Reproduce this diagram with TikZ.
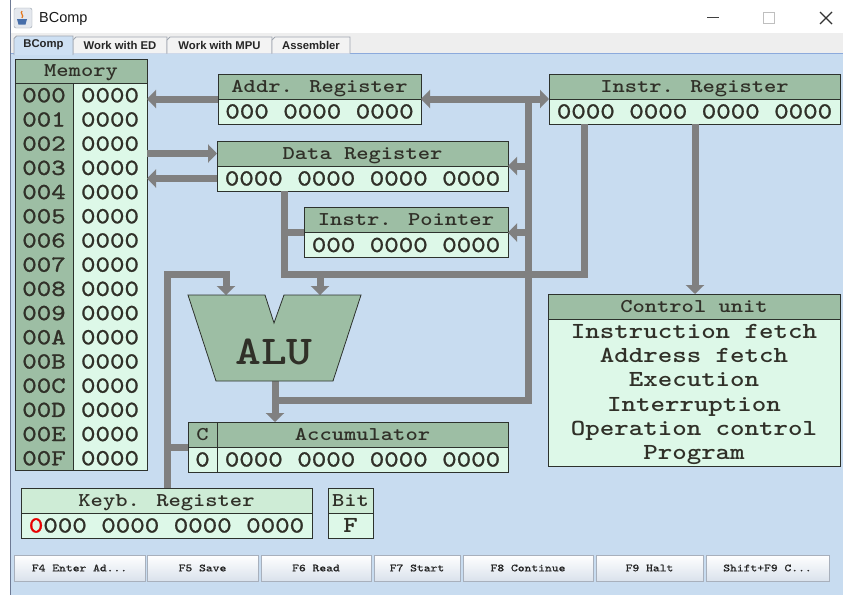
\documentclass[tikz,border=0pt]{standalone}
\usepackage{fontspec}
\setmainfont{Liberation Sans}
% typewriter face with slab serifs, widened to a Courier-like pitch
\newfontfamily\monofont{lmmono10-regular}[Extension=.otf, BoldFont=lmmonolt10-bold,
  FakeStretch=1.2, UprightFeatures={FakeBold=1}]
\usetikzlibrary{arrows.meta}

\definecolor{panel}{RGB}{200,220,240}
\definecolor{panelline}{RGB}{140,170,220}
\definecolor{winedge}{RGB}{110,122,148}
\definecolor{tabstrip}{RGB}{238,238,238}
\definecolor{tabface}{RGB}{243,243,243}
\definecolor{tabsel}{RGB}{206,224,243}
\definecolor{tabedge}{RGB}{160,166,176}
\definecolor{hdrgreen}{RGB}{157,190,164}
\definecolor{valgreen}{RGB}{221,248,232}
\definecolor{kbgreen}{RGB}{206,236,214}
\definecolor{busgray}{RGB}{128,128,128}
\definecolor{ink}{RGB}{48,48,40}
\definecolor{frame}{RGB}{45,50,45}
\definecolor{btnedge}{RGB}{168,176,188}
\definecolor{btnlow}{RGB}{218,226,236}
\definecolor{keyred}{RGB}{232,0,0}
\definecolor{iconface}{RGB}{228,232,238}
\definecolor{iconedge}{RGB}{150,160,172}
\definecolor{steam}{RGB}{230,120,30}
\definecolor{cup}{RGB}{70,110,170}

\tikzset{
  cell/.style={draw=frame, line width=1pt, outer sep=0pt, inner sep=0pt,
    anchor=north west, text=ink},
  hdr/.style={cell, fill=hdrgreen, minimum height=25pt,
    font=\monofont\bfseries\fontsize{19.5}{21}\selectfont,
    text height=11.9pt, text depth=0pt},
  val/.style={cell, fill=valgreen, minimum height=25pt,
    font=\monofont\fontsize{23}{25}\selectfont,
    text height=14pt, text depth=0pt},
  valbold/.style={val, font=\monofont\bfseries\fontsize{23}{25}\selectfont},
  memtxt/.style={inner sep=0pt, text=ink, font=\monofont\fontsize{23}{25}\selectfont,
    text height=14pt, text depth=0pt},
  cutxt/.style={inner sep=0pt, text=ink, font=\monofont\bfseries\fontsize{23}{25}\selectfont,
    text height=14pt, text depth=0pt},
  bus/.style={draw=busgray, line width=7pt},
  >={Triangle[length=9pt,width=18pt]},
  btn/.style={draw=btnedge, line width=0.8pt, top color=white, bottom color=btnlow,
    anchor=north west, minimum height=26pt, inner sep=0pt, outer sep=0pt,
    font=\monofont\fontsize{10.8}{12}\selectfont, text=black!85},
  tabtxt/.style={inner sep=0pt, font=\bfseries\fontsize{11.3}{12}\selectfont,
    text=black!85},
}

\begin{document}
\begin{tikzpicture}[x=1pt,y=-1pt]
\useasboundingbox (0,0) rectangle (843,595);

% window: title bar, tab strip, client panel
\fill[white] (0,0) rectangle (843,595);
\fill[tabstrip] (10,33) rectangle (843,53.5);
\fill[panel] (10,53.5) rectangle (843,595);
\draw[panelline, line width=0.8pt] (10,53.5) -- (843,53.5);
\draw[winedge, line width=1pt] (10.5,0) -- (10.5,595);

% application icon and title
\draw[fill=iconface, draw=iconedge, rounded corners=2pt] (14,8) rectangle (32,28);
\draw[steam, line width=1.2pt]
  (22,11) .. controls (19.5,13.5) and (24.5,15) .. (22,18);
\fill[cup] (17,19) -- (27,19) -- (25.5,24.5) -- (18.5,24.5) -- cycle;
\node[anchor=west, inner sep=0pt, font=\fontsize{14.5}{16}\selectfont, text=black!90]
  (title) at (39,18.5) {BComp};

% window buttons
\draw[black!75, line width=1pt] (707,17.5) -- (719,17.5);
\draw[black!25, line width=1pt] (763.5,12.5) rectangle (774.5,23.5);
\draw[black!80, line width=1.1pt] (820,12) -- (832,24) (832,12) -- (820,24);

% tabs
\draw[draw=tabedge, fill=tabface, line width=0.8pt] (73,53.5) -- (73,40) -- (76,37) -- (167,37) -- (167,53.5);
\draw[draw=tabedge, fill=tabface, line width=0.8pt] (167,53.5) -- (167,40) -- (170,37) -- (272,37) -- (272,53.5);
\draw[draw=tabedge, fill=tabface, line width=0.8pt] (272,53.5) -- (272,40) -- (275,37) -- (350,37) -- (350,53.5);
\draw[draw=tabedge, fill=tabsel, line width=0.8pt]
  (14,55) -- (14,38.5) -- (16.5,36) -- (73,36) -- (73,55);
\node[tabtxt] (tabA) at (43.5,44.5) {BComp};
\node[tabtxt] (tabB) at (120,45) {Work with ED};
\node[tabtxt] (tabC) at (219.5,45) {Work with MPU};
\node[tabtxt] (tabD) at (311,45) {Assembler};

% bus junctions and ALU ports
\coordinate (busT) at (528,99);
\coordinate (busB) at (528,400);
\coordinate (aluout) at (275,381);
\coordinate (irA) at (584,124);
\coordinate (xA) at (584,274);
\coordinate (xB) at (284,274);
\coordinate (aluinB) at (320,295);
\coordinate (xL) at (167,274);
\coordinate (aluinA) at (226,295);
\coordinate (irB) at (695,124);

% register blocks
\node[hdr, minimum width=132, minimum height=24] (memh) at (15,59) {Memory};
\node[cell, fill=hdrgreen, minimum width=58, minimum height=387] (mema) at (15,83) {};
\node[cell, fill=valgreen, minimum width=74, minimum height=387] (memv) at (73,83) {};

\node[hdr, minimum width=203] (addrh) at (218,74) {Addr. Register};
\node[val, minimum width=203] (addrv) at (218,99) {000 0000 0000};

\node[hdr, minimum width=291] (datah) at (217,141) {Data Register};
\node[val, minimum width=291] (datav) at (217,166) {0000 0000 0000 0000};

\node[hdr, minimum width=291] (irh) at (549,74) {Instr. Register};
\node[val, minimum width=291] (irv) at (549,99) {0000 0000 0000 0000};

\node[hdr, minimum width=204] (iph) at (304,207.5) {Instr. Pointer};
\node[val, minimum width=204] (ipv) at (304,232.5) {000 0000 0000};

\node[hdr, minimum width=29] (ch) at (188,422) {C};
\node[val, minimum width=29] (cv) at (188,447) {0};
\node[hdr, minimum width=291] (acch) at (217,422) {Accumulator};
\node[val, minimum width=291] (accv) at (217,447) {0000 0000 0000 0000};

\node[hdr, fill=kbgreen, minimum width=291] (kbh) at (21,488) {Keyb. Register};
\node[val, minimum width=291] (kbv) at (21,513) {{\color{keyred}0}000 0000 0000 0000};

\node[hdr, fill=kbgreen, minimum width=45] (bith) at (328,488) {Bit};
\node[valbold, minimum width=45] (bitv) at (328,513) {F};

\node[hdr, minimum width=292] (cuh) at (548,294) {Control unit};
\node[cell, fill=valgreen, minimum width=292, minimum height=147] (cub) at (548,319) {};

% buses between the blocks
\draw[bus,->] (addrh.south west) -- (addrh.south west -| memv.east);
\draw[bus,->] (datah.west -| memv.east) -- (datah.west);
\draw[bus,->] (datav.west) -- (datav.west -| memv.east);

\draw[bus,<->] (addrh.south east) -- (irh.south west);
\draw[bus] (busT) -- (busB) -- (busB -| aluout);
\draw[bus,->] (busT |- datah.south east) -- (datah.south east);
\draw[bus,->] (busT |- iph.south east) -- (iph.south east);
\draw[bus,->] (aluout) -- (aluout |- acch.north);

\draw[bus] (irA) -- (xA) -- (xB) -- (xB |- datav.south);
\draw[bus] (iph.south west) -- (iph.south west -| xB);
\draw[bus,->] (aluinB |- xB) -- (aluinB);

\draw[bus,->] (kbh.north -| xL) -- (xL) -| (aluinA);
\draw[bus] (ch.south west) -- (ch.south west -| xL);

\draw[bus,->] (irB) -- (irB |- cuh.north);

% memory contents
\foreach \a [count=\i from 0] in {000,001,002,003,004,005,006,007,008,009,00A,00B,00C,00D,00E,00F} {
  \node[memtxt] (ma\i) at (44,{95.3+24.2*\i}) {\a};
  \node[memtxt] (mv\i) at (110,{95.3+24.2*\i}) {0000};
}

% control unit states
\foreach \t [count=\i from 0] in {Instruction fetch,Address fetch,Execution,Interruption,Operation control,Program} {
  \node[cutxt] (cu\i) at (694,{331.5+24.2*\i}) {\t};
}

% ALU
\draw[draw=frame, line width=0.8pt, fill=hdrgreen]
  (188,295) -- (265,295) -- (274,323) -- (284,295) -- (361,295)
  -- (333,381) -- (216,381) -- cycle;
\node[inner sep=0pt, text=ink, font=\monofont\bfseries\fontsize{41}{42}\selectfont,
  text height=25pt, text depth=0pt] (alu) at (274,351.5) {ALU};

% control buttons
\node[btn, minimum width=131] (bF4) at (14,555) {F4 Enter Ad...};
\node[btn, minimum width=111] (bF5) at (147,555) {F5 Save};
\node[btn, minimum width=110] (bF6) at (261,555) {F6 Read};
\node[btn, minimum width=86] (bF7) at (374,555) {F7 Start};
\node[btn, minimum width=130] (bF8) at (463,555) {F8 Continue};
\node[btn, minimum width=107] (bF9) at (596,555) {F9 Halt};
\node[btn, minimum width=123] (bSF9) at (706,555) {Shift+F9 C...};
\end{tikzpicture}
\end{document}
